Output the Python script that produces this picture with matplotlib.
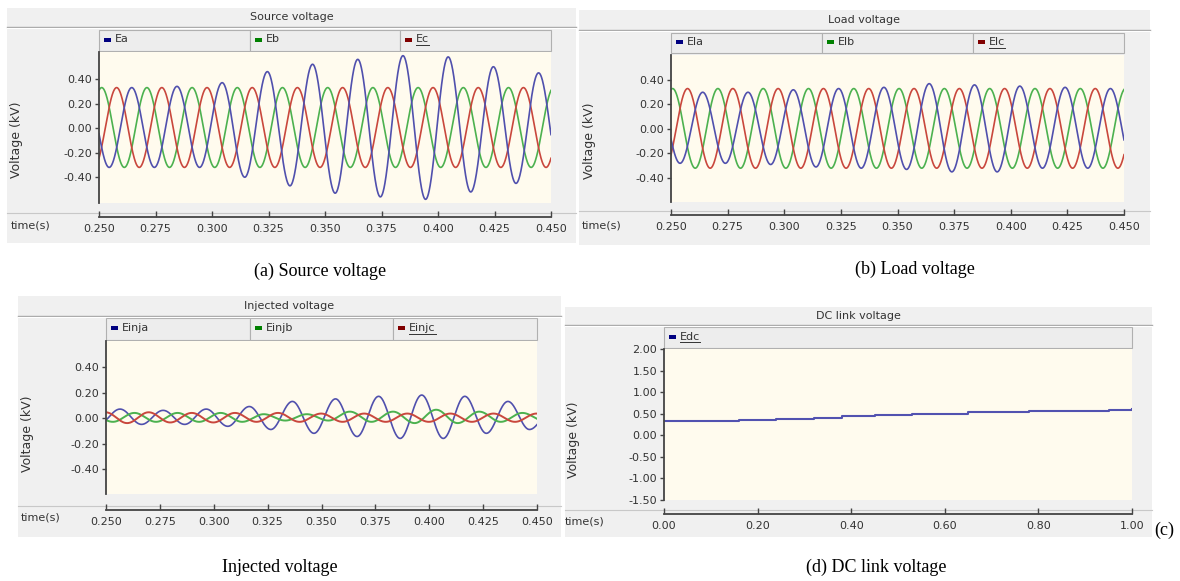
import numpy as np
import matplotlib.pyplot as plt
from matplotlib.patches import Rectangle

plt.rcParams['font.family'] = ['DejaVu Sans']

W, H = 1180, 581
HALF = 0.01  # half period of the 50 Hz waves (s)

# ---------------- data ----------------
# each wave is given by its successive extrema (peak / trough, one per half cycle),
# the first one sitting at the *_t0 time
src_a_t0 = 0.2445
src_a = [0.33, -0.32, 0.33, -0.32, 0.34, -0.32, 0.37, -0.40, 0.46, -0.47, 0.52,
         -0.53, 0.56, -0.56, 0.59, -0.58, 0.58, -0.52, 0.50, -0.45, 0.45, -0.42]
src_b_t0 = 0.2412
src_b = [-0.32, 0.33, -0.32, 0.33, -0.32, 0.33, -0.32, 0.33, -0.32, 0.33, -0.32,
         0.33, -0.32, 0.33, -0.32, 0.33, -0.32, 0.33, -0.32, 0.33, -0.32, 0.33]
src_c_t0 = 0.2478
src_c = [-0.32, 0.33, -0.32, 0.33, -0.32, 0.33, -0.32, 0.33, -0.32, 0.33, -0.32,
         0.33, -0.32, 0.33, -0.32, 0.33, -0.32, 0.33, -0.32, 0.33, -0.32, 0.33]

load_a_t0 = 0.2440
load_a = [0.29, -0.28, 0.30, -0.28, 0.30, -0.29, 0.32, -0.31, 0.33, -0.32, 0.34,
          -0.33, 0.37, -0.35, 0.36, -0.35, 0.35, -0.32, 0.34, -0.32, 0.33, -0.31]
load_b_t0 = 0.2407
load_b = [-0.32, 0.33, -0.32, 0.33, -0.32, 0.33, -0.32, 0.33, -0.32, 0.33, -0.32,
          0.33, -0.32, 0.33, -0.32, 0.33, -0.32, 0.33, -0.32, 0.33, -0.32, 0.33]
load_c_t0 = 0.2473
load_c = [-0.32, 0.33, -0.32, 0.33, -0.32, 0.33, -0.32, 0.33, -0.32, 0.33, -0.32,
          0.33, -0.32, 0.33, -0.32, 0.33, -0.32, 0.33, -0.32, 0.33, -0.32, 0.33]

inj_a_t0 = 0.2465
inj_a = [-0.05, 0.07, -0.05, 0.06, -0.05, 0.07, -0.065, 0.09, -0.09, 0.13, -0.12,
         0.15, -0.145, 0.17, -0.16, 0.18, -0.16, 0.17, -0.12, 0.13, -0.09, 0.05]
inj_b_t0 = 0.2432
inj_b = [0.03, -0.03, 0.04, -0.03, 0.04, -0.03, 0.04, -0.03, 0.03, -0.02, 0.03,
         -0.02, 0.05, -0.03, 0.05, -0.04, 0.065, -0.04, 0.05, -0.03, 0.04, -0.02]
inj_c_t0 = 0.2398
inj_c = [-0.035, 0.045, -0.04, 0.045, -0.035, 0.04, -0.035, 0.04, -0.03, 0.04, -0.03,
         0.035, -0.03, 0.035, -0.03, 0.035, -0.03, 0.035, -0.03, 0.035, -0.03, 0.035, -0.03]

dc_t = [0.0, 0.16, 0.24, 0.32, 0.38, 0.45, 0.53, 0.65, 0.78, 0.95, 1.0]
dc_v = [0.32, 0.35, 0.38, 0.41, 0.44, 0.47, 0.50, 0.53, 0.56, 0.59, 0.60]

wave_xticks = [0.250, 0.275, 0.300, 0.325, 0.350, 0.375, 0.400, 0.425, 0.450]
wave_xlabels = ['0.250', '0.275', '0.300', '0.325', '0.350', '0.375', '0.400', '0.425', '0.450']
wave_yticks = [0.4, 0.2, 0.0, -0.2, -0.4]
wave_ylabels = ['0.40', '0.20', '0.00', '-0.20', '-0.40']
dc_xticks = [0.0, 0.2, 0.4, 0.6, 0.8, 1.0]
dc_xlabels = ['0.00', '0.20', '0.40', '0.60', '0.80', '1.00']
dc_yticks = [2.0, 1.5, 1.0, 0.5, 0.0, -0.5, -1.0, -1.5]
dc_ylabels = ['2.00', '1.50', '1.00', '0.50', '0.00', '-0.50', '-1.00', '-1.50']

LINE = ['#5050ad', '#4cb14f', '#c9473d']
MARK = ['#000080', '#008000', '#800000']
FS = 8


def wave(t, t0, ext):
    ext = np.array(ext)
    k = np.clip(((t - t0) // HALF).astype(int), 0, len(ext) - 2)
    ph = np.clip((t - t0 - k * HALF) / HALF, 0, 1)
    v0, v1 = ext[k], ext[k + 1]
    return (v0 + v1) / 2 + (v0 - v1) / 2 * np.cos(np.pi * ph)


fig = plt.figure(figsize=(W / 100, H / 100), dpi=100)
bg = fig.add_axes([0, 0, 1, 1], zorder=0)
bg.set_xlim(0, W)
bg.set_ylim(H, 0)
bg.axis('off')


def px_axes(x0, y0, x1, y1):
    return fig.add_axes([x0 / W, 1 - y1 / H, (x1 - x0) / W, (y1 - y0) / H], zorder=2)


underlined = []


def panel(p):
    x0, y0, x1, y1 = p['frame']
    bg.add_patch(Rectangle((x0, y0), x1 - x0, y1 - y0, fc='#f0f0f0', ec='none'))
    bg.plot([x0, x1], [p['head'], p['head']], color='#a8a8a8', lw=1.0)
    bg.plot([x0, x1], [p['head'] + 1.2, p['head'] + 1.2], color='#ffffff', lw=0.8)
    bg.text((x0 + x1) / 2, (y0 + p['head']) / 2, p['title'], fontsize=FS,
            color='#333333', ha='center', va='center')

    lx0, ly0, lx1, ly1 = p['legend']
    n = len(p['names'])
    bw = (lx1 - lx0) / n
    for i, name in enumerate(p['names']):
        bx = lx0 + i * bw
        bg.add_patch(Rectangle((bx, ly0), bw, ly1 - ly0, fc='#ededed', ec='#b0b0b0', lw=0.8))
        cy = (ly0 + ly1) / 2
        bg.add_patch(Rectangle((bx + 5, cy - 3), 7, 4, fc=MARK[i], ec='none'))
        txt = bg.text(bx + 16, cy - 1, name, fontsize=FS, color='#333333', va='center')
        if i == n - 1:
            underlined.append(txt)

    px0, py0, px1, py1 = p['plot']
    ax = px_axes(px0, py0, px1, py1)
    ax.set_facecolor('#fffbee')
    for s in ['top', 'right', 'bottom']:
        ax.spines[s].set_visible(False)
    ax.spines['left'].set_color('#444444')
    ax.spines['left'].set_linewidth(1.3)
    ax.set_xlim(p['xlim'])
    ax.set_ylim(p['ylim'])
    ax.set_xticks([])
    ax.set_yticks(p['yticks'])
    ax.set_yticklabels(p['ylabels'])
    ax.tick_params(axis='y', length=3, width=1, color='#444444', labelsize=FS,
                   labelcolor='#333333', pad=2)

    bg.plot([x0, x1], [p['sep'], p['sep']], color='#c8c8c8', lw=0.8)
    ta = px_axes(px0, p['axis'] - 1, px1, p['axis'])
    ta.patch.set_visible(False)
    for s in ['top', 'right', 'left']:
        ta.spines[s].set_visible(False)
    ta.spines['bottom'].set_color('#444444')
    ta.spines['bottom'].set_linewidth(1.3)
    ta.set_xlim(p['xlim'])
    ta.set_yticks([])
    ta.set_xticks(p['xticks'])
    ta.set_xticklabels(p['xlabels'])
    ta.tick_params(axis='x', direction='in', length=4, width=1, color='#444444',
                   labelsize=FS, labelcolor='#333333', pad=5)

    bg.text(p['ylab'][0], p['ylab'][1], 'Voltage (kV)', rotation=90, fontsize=9,
            color='#333333', ha='center', va='center')
    bg.text(p['time'][0], p['time'][1], 'time(s)', fontsize=FS, color='#333333',
            ha='left', va='center')
    bg.text(p['cap'][0], p['cap'][1], p['caption'], fontsize=13,
            family=['Liberation Serif', 'DejaVu Serif'], ha='center', va='center')
    return ax


t = np.linspace(0.25, 0.45, 2001)

ax = panel(dict(frame=(7, 8, 576, 243), head=27, title='Source voltage',
                legend=(99, 30, 551, 51), names=['Ea', 'Eb', 'Ec'],
                plot=(99, 52, 551, 203), sep=213, axis=217,
                xlim=(0.25, 0.45), ylim=(-0.61, 0.62),
                xticks=wave_xticks, xlabels=wave_xlabels,
                yticks=wave_yticks, ylabels=wave_ylabels,
                ylab=(17, 140), time=(11, 225),
                caption='(a) Source voltage', cap=(320, 271)))
ax.plot(t, wave(t, src_b_t0, src_b), color=LINE[1], lw=1.2)
ax.plot(t, wave(t, src_c_t0, src_c), color=LINE[2], lw=1.2)
ax.plot(t, wave(t, src_a_t0, src_a), color=LINE[0], lw=1.2)

ax = panel(dict(frame=(579, 10, 1150, 245), head=30, title='Load voltage',
                legend=(671, 33, 1124, 53), names=['Ela', 'Elb', 'Elc'],
                plot=(671, 55, 1124, 202), sep=211, axis=215,
                xlim=(0.25, 0.45), ylim=(-0.596, 0.604),
                xticks=wave_xticks, xlabels=wave_xlabels,
                yticks=wave_yticks, ylabels=wave_ylabels,
                ylab=(590, 141), time=(582, 225),
                caption='(b) Load voltage', cap=(915, 269)))
ax.plot(t, wave(t, load_b_t0, load_b), color=LINE[1], lw=1.2)
ax.plot(t, wave(t, load_c_t0, load_c), color=LINE[2], lw=1.2)
ax.plot(t, wave(t, load_a_t0, load_a), color=LINE[0], lw=1.2)

ax = panel(dict(frame=(18, 296, 561, 537), head=316, title='Injected voltage',
                legend=(106, 318, 537, 340), names=['Einja', 'Einjb', 'Einjc'],
                plot=(106, 341, 537, 494), sep=506, axis=510,
                xlim=(0.25, 0.45), ylim=(-0.596, 0.604),
                xticks=wave_xticks, xlabels=wave_xlabels,
                yticks=wave_yticks, ylabels=wave_ylabels,
                ylab=(28, 434), time=(21, 518),
                caption='Injected voltage', cap=(280, 567)))
ax.plot(t, wave(t, inj_a_t0, inj_a), color=LINE[0], lw=1.2)
ax.plot(t, wave(t, inj_b_t0, inj_b), color=LINE[1], lw=1.4)
ax.plot(t, wave(t, inj_c_t0, inj_c), color=LINE[2], lw=1.4)

ax = panel(dict(frame=(565, 307, 1152, 537), head=325, title='DC link voltage',
                legend=(664, 327, 1132, 348), names=['Edc'],
                plot=(664, 349, 1132, 500), sep=510, axis=514,
                xlim=(0.0, 1.0), ylim=(-1.5, 2.0),
                xticks=dc_xticks, xlabels=dc_xlabels,
                yticks=dc_yticks, ylabels=dc_ylabels,
                ylab=(574, 440), time=(565, 522),
                caption='(d) DC link voltage', cap=(876, 567)))
ax.step(dc_t, dc_v, where='post', color='#5252b0', lw=1.5)
bg.text(1164, 530, '(c)', fontsize=13, family=['Liberation Serif', 'DejaVu Serif'],
        ha='center', va='center')

# underline the last legend entry of every panel, like the source program does
r = fig.canvas.get_renderer()
for txt in underlined:
    bb = txt.get_window_extent(r)
    yy = H - bb.y0 + 0.5
    bg.plot([bb.x0, bb.x1], [yy, yy], color='#333333', lw=0.7)

fig.savefig('out.png', dpi=100)
